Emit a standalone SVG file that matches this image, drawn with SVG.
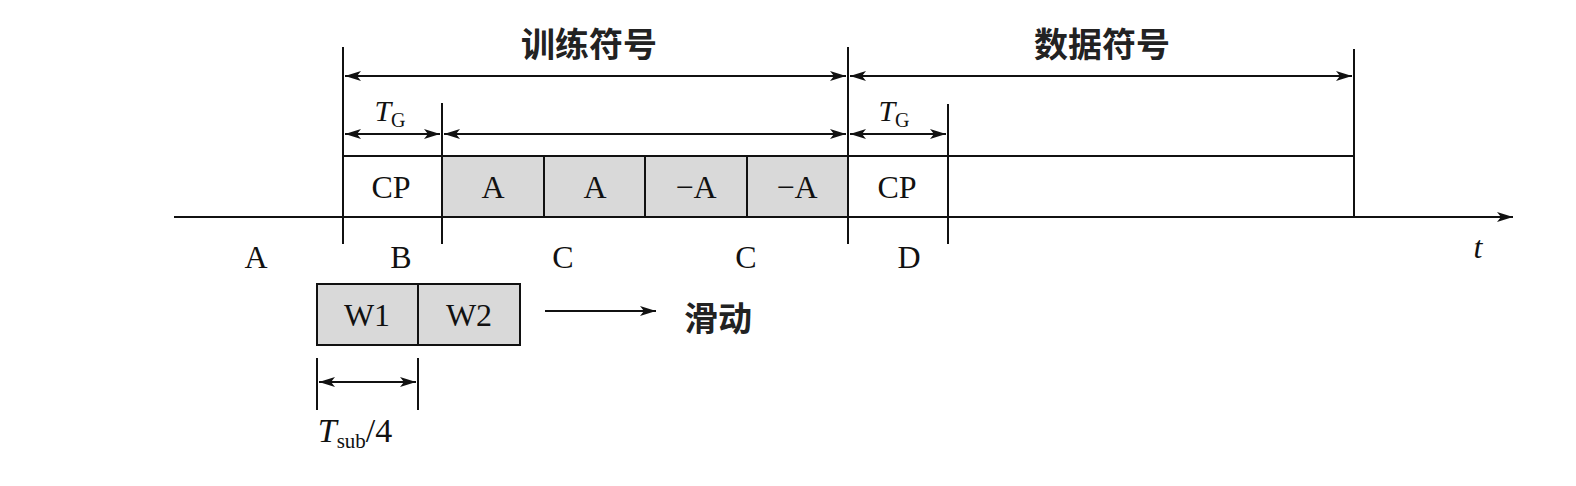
<svg xmlns="http://www.w3.org/2000/svg" width="1576" height="486" viewBox="0 0 1576 486">
<style>
.ln{stroke:#111;stroke-width:2;fill:none}
.lt{font-family:"Liberation Serif",serif;font-size:32px;fill:#111;text-anchor:middle}
.it{font-style:italic}
.cn{font-family:"Noto Sans CJK SC",sans-serif;font-weight:bold;font-size:34px;fill:#222;text-anchor:middle}
.cell{fill:#d9d9d9;stroke:#111;stroke-width:2}
</style>
<defs>
<marker id="ae" viewBox="0 0 16 10" refX="16" refY="5" markerWidth="16" markerHeight="10" markerUnits="userSpaceOnUse" orient="auto">
<path d="M0,0 L16,5 L0,10 L4,5 Z" fill="#111"/>
</marker>
<marker id="as" viewBox="0 0 16 10" refX="0" refY="5" markerWidth="16" markerHeight="10" markerUnits="userSpaceOnUse" orient="auto">
<path d="M16,0 L0,5 L16,10 L12,5 Z" fill="#111"/>
</marker>
</defs>
<rect width="1576" height="486" fill="#fff"/>
<g id="training-cells">
<rect class="cell" x="442" y="156" width="102" height="61"/>
<rect class="cell" x="544" y="156" width="101" height="61"/>
<rect class="cell" x="645" y="156" width="102" height="61"/>
<rect class="cell" x="747" y="156" width="101" height="61"/>
<text class="lt" x="493" y="198">A</text>
<text class="lt" x="595" y="198">A</text>
<text class="lt" x="696" y="198">−A</text>
<text class="lt" x="797" y="198">−A</text>
</g>
<g id="cp1"><text class="lt" x="391" y="198">CP</text></g>
<g id="cp2"><text class="lt" x="897" y="198">CP</text></g>
<g id="window">
<rect class="cell" x="317" y="284" width="101" height="61"/>
<rect class="cell" x="418" y="284" width="102" height="61"/>
<text class="lt" x="367" y="326">W1</text>
<text class="lt" x="469" y="326">W2</text>
</g>
<g id="connectors">
<line class="ln" x1="174" y1="217" x2="1513" y2="217" marker-end="url(#ae)"/>
<line class="ln" x1="343" y1="156" x2="1354" y2="156"/>
<line class="ln" x1="343" y1="47" x2="343" y2="244"/>
<line class="ln" x1="442" y1="103" x2="442" y2="244"/>
<line class="ln" x1="848" y1="47" x2="848" y2="244"/>
<line class="ln" x1="948" y1="104" x2="948" y2="244"/>
<line class="ln" x1="1354" y1="49" x2="1354" y2="218"/>
<line class="ln" x1="345" y1="76" x2="846" y2="76" marker-start="url(#as)" marker-end="url(#ae)"/>
<line class="ln" x1="850" y1="76" x2="1352" y2="76" marker-start="url(#as)" marker-end="url(#ae)"/>
<line class="ln" x1="345" y1="134" x2="440" y2="134" marker-start="url(#as)" marker-end="url(#ae)"/>
<line class="ln" x1="444" y1="134" x2="846" y2="134" marker-start="url(#as)" marker-end="url(#ae)"/>
<line class="ln" x1="850" y1="134" x2="946" y2="134" marker-start="url(#as)" marker-end="url(#ae)"/>
<line class="ln" x1="545" y1="311" x2="656" y2="311" marker-end="url(#ae)"/>
<line class="ln" x1="317" y1="358" x2="317" y2="410"/>
<line class="ln" x1="418" y1="358" x2="418" y2="410"/>
<line class="ln" x1="319" y1="382" x2="416" y2="382" marker-start="url(#as)" marker-end="url(#ae)"/>
</g>
<g id="labels">
<text class="cn" x="589" y="57">训练符号</text>
<text class="cn" x="1102" y="57">数据符号</text>
<text class="cn" x="718" y="331">滑动</text>
<text class="lt" x="390" y="121"><tspan class="it" font-size="30">T</tspan><tspan font-size="20" dy="6">G</tspan></text>
<text class="lt" x="894" y="121"><tspan class="it" font-size="30">T</tspan><tspan font-size="20" dy="6">G</tspan></text>
<text class="lt" x="256" y="268">A</text>
<text class="lt" x="401" y="268">B</text>
<text class="lt" x="563" y="268">C</text>
<text class="lt" x="746" y="268">C</text>
<text class="lt" x="909" y="268">D</text>
<text class="lt it" x="1478" y="258">t</text>
<text class="lt" x="355" y="442"><tspan class="it" font-size="34">T</tspan><tspan font-size="21" dy="6">sub</tspan><tspan font-size="34" dy="-6">/4</tspan></text>
</g>
</svg>
